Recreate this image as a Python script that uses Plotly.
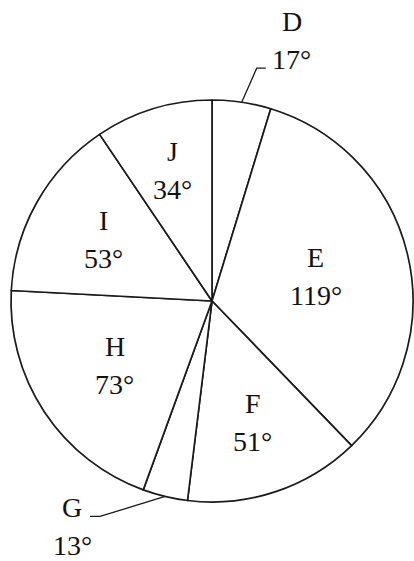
import math
import plotly.graph_objects as go

# -------------------------------
# Data: sectors (degrees), clockwise from 12 o'clock
# -------------------------------
labels = ["D", "E", "F", "G", "H", "I", "J"]
degrees = [17, 119, 51, 13, 73, 53, 34]

# label placement: fraction of radius for the inside labels
inside_r = {"E": 0.53, "F": 0.64, "H": 0.58, "I": 0.62, "J": 0.68}

# -------------------------------
# Geometry (page pixels); body margin is removed below
# -------------------------------
W, H = 414, 561
SIZE = 402                      # square plot area
CX, CY = 212, 301               # pie centre on the page
RAD = SIZE / 2
L = int(CX - RAD)
T = int(CY - RAD)
R = W - L - SIZE
B = H - T - SIZE

FONT = dict(family="Liberation Serif, Times New Roman, serif", size=28, color="#111111")
LINE = "#1a1a1a"


def px_to_paper(x, y):
    return (x - L) / SIZE, (T + SIZE - y) / SIZE


def polar_px(angle_deg, frac):
    a = math.radians(angle_deg)
    return CX + frac * RAD * math.sin(a), CY - frac * RAD * math.cos(a)


# mid-angle of each slice, clockwise from the top
mid = {}
acc = 0
for lab, d in zip(labels, degrees):
    mid[lab] = acc + d / 2
    acc += d

fig = go.Figure(go.Pie(
    labels=labels,
    values=degrees,
    sort=False,
    direction="clockwise",
    rotation=0,
    textinfo="none",
    hoverinfo="label+value",
    marker=dict(colors=["white"] * len(labels), line=dict(color=LINE, width=1.7)),
    showlegend=False,
))

annotations = []


def add_label(x, y, lab, val):
    for txt, dy in ((lab, -19), (f"{val}°", 19)):
        xp, yp = px_to_paper(x, y + dy)
        annotations.append(dict(x=xp, y=yp, xref="paper", yref="paper", text=txt,
                                showarrow=False, font=FONT, xanchor="center", yanchor="middle"))


for lab, val in zip(labels, degrees):
    if lab in inside_r:
        x, y = polar_px(mid[lab], inside_r[lab])
        add_label(x, y, lab, val)

# outside labels with leader lines (D at the top, G at the bottom)
shapes = []
outside = {"D": ((15, -34), (24, -34), (50, -62)),
           "G": ((-65, 20), (-75, 20), (-93, 30))}
for lab, (elbow, end, text_off) in outside.items():
    sx, sy = polar_px(mid[lab], 1.0)
    pts = [(sx, sy), (sx + elbow[0], sy + elbow[1]), (sx + end[0], sy + end[1])]
    path = "M " + " L ".join("{:.4f},{:.4f}".format(*px_to_paper(px, py)) for px, py in pts)
    shapes.append(dict(type="path", path=path, xref="paper", yref="paper",
                       line=dict(color=LINE, width=1.3)))
    val = degrees[labels.index(lab)]
    add_label(sx + text_off[0], sy + text_off[1], lab, val)

fig.update_layout(
    width=W, height=H,
    margin=dict(l=L, r=R, t=T, b=B),
    paper_bgcolor="white",
    plot_bgcolor="white",
    annotations=annotations,
    shapes=shapes,
)

fig.write_html("out.html", config={"displayModeBar": False},
               post_script="document.body.style.margin='0';")
